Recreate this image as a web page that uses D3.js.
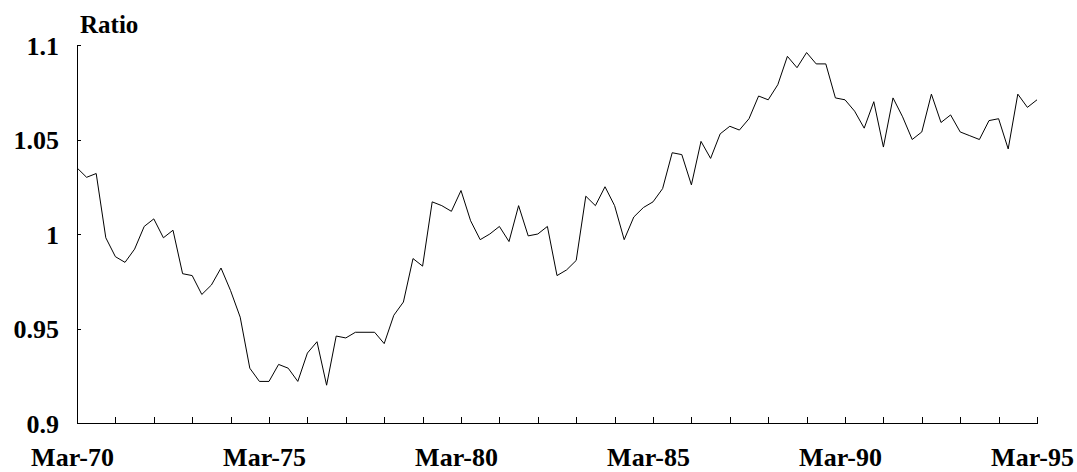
<!DOCTYPE html>
<html>
<head>
<meta charset="utf-8">
<script src="https://cdnjs.cloudflare.com/ajax/libs/d3/7.8.5/d3.min.js"></script>
<style>
  body { margin: 0; background: #fff; }
  svg { display: block; }
</style>
</head>
<body>
<div class="chart"></div>
<script>
// quarterly ratio, Mar-70 .. Mar-95
var ratio = [
  1.035, 1.030, 1.032, 0.998, 0.988, 0.985, 0.992, 1.004, 1.008, 0.998,
  1.002, 0.979, 0.978, 0.968, 0.973, 0.982, 0.970, 0.956, 0.929, 0.922,
  0.922, 0.931, 0.929, 0.922, 0.937, 0.943, 0.920, 0.946, 0.945, 0.948,
  0.948, 0.948, 0.942, 0.957, 0.964, 0.987, 0.983, 1.017, 1.015, 1.012,
  1.023, 1.007, 0.997, 1.000, 1.004, 0.996, 1.015, 0.999, 1.000, 1.004,
  0.978, 0.981, 0.986, 1.020, 1.015, 1.025, 1.015, 0.997, 1.009, 1.014,
  1.017, 1.024, 1.043, 1.042, 1.026, 1.049, 1.040, 1.053, 1.057, 1.055,
  1.061, 1.073, 1.071, 1.079, 1.094, 1.088, 1.096, 1.090, 1.090, 1.072,
  1.071, 1.065, 1.056, 1.070, 1.046, 1.072, 1.062, 1.050, 1.054, 1.074,
  1.059, 1.063, 1.054, 1.052, 1.050, 1.060, 1.061, 1.045, 1.074, 1.067,
  1.071
];
var yTicks = [0.9, 0.95, 1, 1.05, 1.1];
var yearLabels = ["Mar-70", "Mar-75", "Mar-80", "Mar-85", "Mar-90", "Mar-95"];
var yLabel = "Ratio";

var font = "'Liberation Serif'";

var margin = {top: 45, left: 77, bottom: 49, right: 40},
    width = 1077 - margin.left - margin.right,
    height = 472 - margin.top - margin.bottom;

var svg = d3.select(".chart").append("svg")
    .attr("width", 1077)
    .attr("height", 472)
    .append("g")
    .attr("transform", "translate(" + margin.left + "," + margin.top + ")");

var x = d3.scaleLinear().domain([0, ratio.length - 1]).range([0, width]);
var y = d3.scaleLinear().domain([0.9, 1.1]).range([height, 0]);

// one tick per year, label every five years
var xTicks = d3.range(0, ratio.length, 4);

var x_axis = d3.axisBottom(x)
    .tickValues(xTicks)
    .tickSizeInner(-6)
    .tickSizeOuter(0)
    .tickPadding(25)
    .tickFormat(function(d){ return d % 20 === 0 ? yearLabels[d / 20] : ""; });

var y_axis = d3.axisLeft(y)
    .tickValues(yTicks)
    .tickSizeInner(-4)
    .tickSizeOuter(0)
    .tickPadding(18)
    .tickFormat(function(d){ return String(d); });

var gy = svg.append("g")
    .call(y_axis);

var gx = svg.append("g")
    .attr("transform", "translate(0," + height + ")")
    .call(x_axis);

gx.selectAll(".tick text").attr("dx", -5);
gy.selectAll(".tick text").attr("dy", "0.35em");

svg.selectAll(".tick text")
    .attr("fill", "#000")
    .style("font-family", font)
    .style("font-size", "26px")
    .style("font-weight", "bold");

svg.selectAll(".domain, .tick line")
    .attr("stroke", "#000")
    .style("shape-rendering", "crispEdges");

svg.append("text")
    .attr("x", 3)
    .attr("y", -12)
    .style("font-family", font)
    .style("font-size", "25px")
    .style("font-weight", "bold")
    .text(yLabel);

var line = d3.line()
    .x(function(d, i){ return x(i); })
    .y(function(d){ return y(d); });

svg.append("path")
    .datum(ratio)
    .attr("fill", "none")
    .attr("stroke", "#000")
    .attr("stroke-width", 1)
    .attr("d", line);
</script>
</body>
</html>
